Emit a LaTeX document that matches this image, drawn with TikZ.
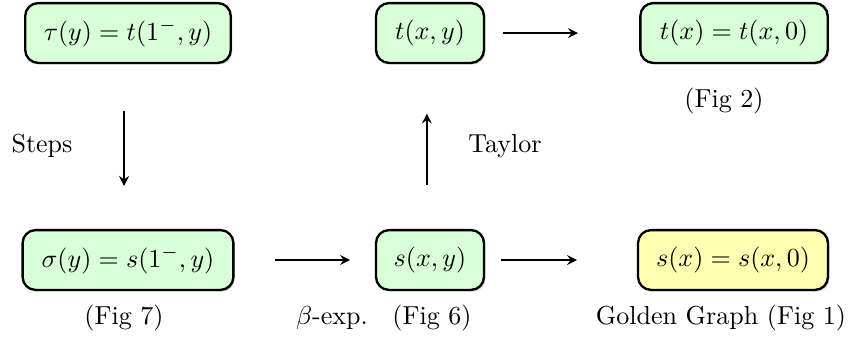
\documentclass[tikz,border=0pt]{standalone}
\usepackage{amsmath}
\usetikzlibrary{shadows}
\definecolor{boxgreen}{rgb}{0.85,1,0.85}
\definecolor{boxyellow}{rgb}{1,1,0.7}
\tikzset{
  fbox/.style={draw=black, line width=0.9pt, rounded corners=5pt, fill=boxgreen,
    minimum height=23pt, inner xsep=4pt,
    drop shadow={shadow xshift=0.6pt, shadow yshift=-0.6pt, opacity=0.35}},
  ybox/.style={fbox, fill=boxyellow},
  conn/.style={-stealth, line width=0.7pt},
  lbl/.style={inner sep=0pt}
}
\begin{document}
\begin{tikzpicture}[x=0.3843pt, y=-0.3843pt]
\useasboundingbox (0,0) rectangle (851,339);
\node[fbox, minimum width=79pt] (tau) at (128,33) {$\tau(y) = t(1^-,y)$};
\node[fbox, minimum width=41.5pt] (txy) at (430,33) {$t(x,y)$};
\node[fbox, minimum width=72pt] (tx) at (734,33) {$t(x) = t(x,0)$};
\node[fbox, minimum width=81pt] (sigma) at (128,260) {$\sigma(y) = s(1^-,y)$};
\node[fbox, minimum width=41.5pt] (sxy) at (430,260) {$s(x,y)$};
\node[ybox, minimum width=73pt] (sx) at (733,260) {$s(x) = s(x,0)$};

\node[lbl] (fig2) at (724,101) {(Fig 2)};
\node[lbl] (steps) at (42,146) {Steps};
\node[lbl] (taylor) at (505,146) {Taylor};
\node[lbl] (fig7) at (124,318) {(Fig 7)};
\node[lbl] (beta) at (332,318) {$\beta$-exp.};
\node[lbl] (fig6) at (432,318) {(Fig 6)};
\node[lbl] (golden) at (721,318) {Golden Graph (Fig 1)};

\draw[conn, shorten <=18pt, shorten >=16.5pt] ([xshift=-1.5pt]tau.south) -- ([xshift=-1.5pt]sigma.north);
\draw[conn, shorten <=17pt, shorten >=19pt] ([xshift=-1.2pt]sxy.north) -- ([xshift=-1.2pt]txy.south);
\draw[conn, shorten <=7pt, shorten >=23.5pt] (txy.east) -- (tx.west);
\draw[conn, shorten <=15.5pt, shorten >=9.5pt] (sigma.east) -- (sxy.west);
\draw[conn, shorten <=6pt, shorten >=23pt] (sxy.east) -- (sx.west);
\end{tikzpicture}
\end{document}
